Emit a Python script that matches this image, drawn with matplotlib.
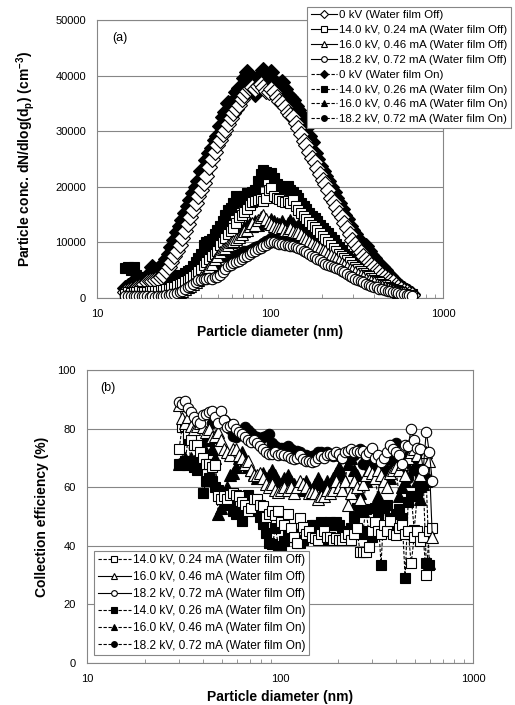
import numpy as np
import matplotlib
matplotlib.use("Agg")
import matplotlib.pyplot as plt
from matplotlib.ticker import LogLocator, NullFormatter, FixedLocator, FixedFormatter

plt.rcParams["font.family"] = ["Liberation Sans", "DejaVu Sans"]
plt.rcParams["mathtext.fontset"] = "custom"
plt.rcParams["mathtext.rm"] = "Liberation Sans"
plt.rcParams["mathtext.bf"] = "Liberation Sans:bold"
plt.rcParams["mathtext.default"] = "bf"

# ---- particle diameters (nm), SMPS channels ----
diam = [14.6, 15.1, 15.7, 16.3, 16.8, 17.5, 18.1, 18.8, 19.5, 20.2,
        20.9, 21.7, 22.5, 23.3, 24.1, 25.0, 25.9, 26.9, 27.9, 28.9,
        30.0, 31.1, 32.2, 33.4, 34.6, 35.9, 37.2, 38.5, 40.0, 41.4,
        42.9, 44.5, 46.1, 47.8, 49.6, 51.4, 53.3, 55.2, 57.3, 59.4,
        61.5, 63.8, 66.1, 68.5, 71.0, 73.7, 76.4, 79.1, 82.0, 85.1,
        88.2, 91.4, 94.7, 98.2, 101.8, 105.5, 109.4, 113.4, 117.6, 121.9,
        126.3, 131.0, 135.8, 140.7, 145.9, 151.2, 156.8, 162.5, 168.5, 174.7,
        181.1, 187.7, 194.6, 201.7, 209.1, 216.7, 224.7, 232.9, 241.4, 250.3,
        259.5, 269.0, 278.8, 289.0, 299.6, 310.6, 322.0, 333.8, 346.0, 358.7,
        371.8, 385.4, 399.5, 414.2, 429.4, 445.1, 461.4, 478.3, 495.8, 514.0,
        532.8, 552.3, 572.5, 593.5, 615.3, 637.8, 661.2]

# ---- (a) number concentration, in 10^3 cm^-3 ----
off_0kv = [1.0, 1.2, 1.5, 1.6, 1.8, 2.0, 2.2, 2.5, 2.8, 3.0,
           3.0, 3.2, 3.5, 3.7, 4.2, 4.8, 5.6, 6.5, 7.5, 8.5,
           9.5, 10.8, 12.0, 13.3, 14.5, 15.8, 17.0, 18.3, 19.5, 20.7,
           22.0, 23.5, 25.0, 26.3, 27.5, 28.5, 29.5, 30.3, 31.3, 32.3,
           33.2, 34.0, 34.8, 35.8, 36.5, 37.2, 37.8, 38.0, 37.6, 38.2,
           38.5, 38.0, 37.3, 37.0, 37.5, 37.0, 36.2, 35.5, 35.0, 34.3,
           33.5, 33.0, 32.5, 31.5, 30.5, 29.5, 28.3, 27.5, 26.3, 25.2,
           24.5, 23.3, 22.3, 21.3, 20.5, 19.5, 18.0, 17.2, 16.3, 15.3,
           14.5, 13.5, 12.5, 11.5, 10.5, 9.7, 9.0, 8.2, 7.6, 7.0,
           6.5, 6.0, 5.5, 5.0, 4.6, 4.2, 3.8, 3.5, 3.1, 2.8,
           2.4, 2.0, 1.7, 1.3, 1.0, 0.8, 0.6]
off_14kv = [0.8, 1.0, 0.9, 1.1, 1.0, 1.2, 1.0, 1.1, 1.0, 1.2,
            1.2, 1.3, 1.2, 1.4, 1.5, 1.6, 1.7, 1.9, 2.0, 2.3,
            2.5, 2.7, 3.0, 3.3, 3.6, 4.0, 4.4, 4.9, 5.3, 6.0,
            6.5, 7.0, 7.5, 8.0, 8.5, 9.5, 10.0, 10.8, 11.5, 12.0,
            12.5, 13.5, 14.5, 15.0, 15.5, 16.0, 16.8, 17.2, 17.5, 17.7,
            17.8, 17.5, 18.0, 19.5, 19.8, 18.3, 18.0, 17.8, 17.5, 17.2,
            17.4, 17.0, 17.6, 16.5, 15.8, 15.3, 14.8, 14.2, 13.7, 13.2,
            12.7, 12.2, 11.7, 11.2, 10.6, 10.0, 9.5, 9.0, 8.5, 8.0,
            7.6, 7.2, 6.8, 6.4, 6.0, 5.6, 5.2, 4.8, 4.5, 4.2,
            3.9, 3.6, 3.3, 3.0, 2.8, 2.5, 2.3, 2.0, 1.8, 1.6,
            1.4, 1.2, 1.0, 0.8, 0.6, 0.5, 0.4]
off_16kv = [0.3, 0.2, 0.3, 0.2, 0.1, 0.2, 0.1, 0.0, 0.1, 0.0,
            0.0, -0.1, 0.0, 0.1, 0.2, 0.3, 0.4, 0.5, 0.7, 0.9,
            1.1, 1.3, 1.6, 1.9, 2.2, 2.5, 2.9, 3.3, 3.7, 4.2,
            4.8, 5.5, 6.2, 7.0, 7.6, 8.2, 8.8, 9.0, 9.5, 10.0,
            10.3, 10.7, 11.0, 11.5, 12.0, 12.3, 13.0, 13.5, 13.2, 14.0,
            14.5, 15.0, 14.2, 13.6, 13.3, 13.0, 12.8, 12.5, 12.8, 12.3,
            12.2, 12.5, 12.0, 11.8, 11.9, 11.5, 11.0, 10.6, 10.2, 9.9,
            9.6, 9.3, 9.0, 8.7, 8.4, 8.0, 7.7, 7.3, 7.0, 6.6,
            6.3, 5.9, 5.6, 5.3, 5.0, 4.7, 4.4, 4.1, 3.8, 3.5,
            3.3, 3.0, 2.8, 2.6, 2.4, 2.2, 2.0, 1.8, 1.6, 1.4,
            1.3, 1.1, 1.0, 0.8, 0.7, 0.5, 0.4]
off_18kv = [0.4, 0.3, 0.4, 0.3, 0.4, 0.3, 0.4, 0.3, 0.3, 0.2,
            0.3, 0.2, 0.3, 0.3, 0.4, 0.5, 0.6, 0.7, 0.8, 0.9,
            1.0, 1.3, 1.6, 1.9, 2.2, 2.6, 2.9, 3.2, 3.3, 3.4,
            3.5, 3.6, 3.5, 3.7, 3.8, 4.2, 4.7, 5.2, 5.7, 6.0,
            6.3, 6.5, 6.7, 7.0, 7.3, 7.6, 7.9, 8.2, 8.5, 8.8,
            9.0, 9.3, 9.6, 9.9, 10.1, 10.0, 9.9, 9.8, 9.8, 9.6,
            9.5, 9.4, 9.3, 9.2, 9.0, 8.8, 8.5, 8.2, 7.9, 7.6,
            7.4, 7.1, 6.8, 6.5, 6.2, 6.0, 5.8, 5.6, 5.4, 5.2,
            4.9, 4.6, 4.3, 4.0, 3.7, 3.4, 3.2, 3.0, 2.8, 2.6,
            2.4, 2.2, 2.0, 1.9, 1.7, 1.6, 1.5, 1.3, 1.2, 1.1,
            1.0, 0.9, 0.8, 0.7, 0.6, 0.5, 0.4]
on_0kv = [1.8, 2.2, 2.6, 3.0, 2.5, 2.8, 3.2, 3.0, 3.5, 4.5,
          5.5, 5.0, 5.3, 5.8, 6.2, 7.0, 8.0, 9.2, 10.5, 11.8,
          12.9, 14.0, 15.3, 16.5, 17.7, 18.8, 20.0, 21.0, 22.9, 22.5,
          24.9, 26.0, 27.0, 28.5, 29.2, 31.0, 32.5, 33.5, 35.0, 34.8,
          35.5, 37.0, 37.8, 38.0, 39.5, 40.6, 39.3, 38.8, 36.7, 39.0,
          40.2, 41.0, 40.0, 39.5, 40.6, 39.0, 37.8, 38.2, 38.9, 37.5,
          36.5, 36.2, 35.6, 34.5, 33.8, 33.0, 31.5, 30.5, 29.2, 28.0,
          26.0, 25.0, 23.7, 22.8, 22.0, 21.0, 20.0, 19.0, 18.0, 17.0,
          16.0, 15.0, 14.2, 13.0, 12.3, 11.5, 10.6, 9.8, 9.6, 9.3,
          8.5, 7.8, 7.2, 6.5, 6.0, 5.5, 5.0, 4.4, 3.9, 3.3,
          2.8, 2.3, 1.9, 1.6, 1.3, 1.0, 0.8]
on_14kv = [5.4, 5.5, 5.0, 5.6, 4.2, 3.8, 3.3, 3.0, 2.7, 2.5,
           2.5, 2.4, 2.6, 2.8, 3.0, 3.2, 3.5, 3.3, 3.8, 4.1,
           4.2, 4.0, 4.5, 4.8, 5.1, 5.8, 6.5, 7.2, 8.0, 9.5,
           10.0, 10.3, 10.6, 11.5, 12.2, 13.0, 13.8, 15.0, 15.8, 16.2,
           17.0, 18.3, 17.5, 17.8, 18.3, 18.8, 18.5, 19.0, 19.5, 21.0,
           22.3, 23.0, 22.6, 22.3, 22.4, 21.5, 20.5, 20.2, 19.8, 20.0,
           20.1, 19.5, 19.0, 18.5, 18.0, 17.1, 16.5, 16.0, 15.3, 14.8,
           14.3, 13.8, 13.2, 12.5, 12.0, 11.7, 11.0, 10.4, 9.8, 9.2,
           8.6, 8.0, 7.5, 7.0, 6.6, 6.2, 5.7, 5.2, 4.8, 4.4,
           4.0, 3.6, 3.3, 3.0, 2.7, 2.5, 2.3, 2.1, 1.9, 1.7,
           1.5, 1.3, 1.2, 1.0, 0.9, 0.8, 0.7]
on_16kv = [1.8, 2.2, 2.5, 2.0, 1.8, 1.6, 1.5, 1.6, 1.5, 1.4,
           1.5, 1.6, 1.4, 1.7, 1.9, 2.0, 2.2, 2.4, 2.6, 2.8,
           3.0, 3.2, 3.5, 3.8, 4.0, 4.3, 4.6, 5.0, 5.5, 6.2,
           7.0, 7.8, 9.0, 10.5, 12.3, 11.5, 11.0, 10.5, 10.3, 10.0,
           10.3, 10.8, 11.3, 12.0, 12.8, 13.2, 13.5, 13.0, 13.8, 13.2,
           14.0, 14.3, 13.8, 13.5, 14.2, 13.8, 13.5, 13.3, 13.8, 13.0,
           13.5, 14.0, 13.4, 12.8, 13.2, 13.0, 12.3, 11.8, 11.3, 10.8,
           10.5, 10.0, 9.7, 9.4, 9.0, 8.8, 8.5, 8.2, 7.9, 7.5,
           7.2, 6.8, 6.5, 6.2, 5.9, 5.5, 5.2, 4.8, 4.5, 4.2,
           3.9, 3.6, 3.3, 3.0, 2.8, 2.6, 2.3, 2.1, 1.9, 1.7,
           1.5, 1.3, 1.1, 1.0, 0.8, 0.7, 0.6]
on_18kv = [1.5, 1.8, 2.0, 2.2, 2.0, 2.1, 2.0, 1.9, 1.8, 1.8,
           1.8, 1.9, 2.0, 2.1, 2.2, 2.3, 2.4, 2.5, 2.7, 2.9,
           3.0, 3.2, 3.3, 3.5, 3.8, 4.0, 4.3, 4.5, 4.8, 5.0,
           5.0, 5.1, 5.0, 5.2, 5.5, 7.5, 7.6, 7.5, 7.4, 7.5,
           7.6, 7.8, 8.0, 8.2, 8.4, 8.5, 8.7, 8.9, 9.1, 9.4,
           9.6, 9.9, 10.2, 10.5, 10.8, 10.6, 10.4, 10.3, 10.2, 10.1,
           10.0, 9.9, 9.8, 9.6, 9.4, 9.2, 8.9, 8.6, 8.3, 8.0,
           7.8, 7.5, 7.3, 7.0, 6.8, 6.6, 6.4, 6.2, 6.0, 5.8,
           5.6, 5.3, 5.1, 4.8, 4.6, 4.4, 4.1, 3.9, 3.7, 3.4,
           3.2, 3.0, 2.8, 2.6, 2.4, 2.2, 2.0, 1.8, 1.7, 1.5,
           1.4, 1.2, 1.1, 1.0, 0.8, 0.7, 0.6]

# ---- (b) collection efficiency (%), channels 30.0 - 615.3 nm ----
nan = np.nan
eff_off_14kv = [73, 80.5, 81, 78, 76, 74.5, 74.5, 72, 70, 68,
                68, 67, 67.5, 57, 56, 57, 56, 57.5, 58, 57.5,
                57, 55, 54, 52, 53, 56, 56, 54, 53.5, 50,
                51, 52, 50.5, 52, 48, 47, 51, 46, 43, 41,
                49.5, 46.5, 44, 45, 43, 42.5, 42, 44, 45, 43,
                43, 42, 42.5, 42, 42, 43, 44, 42, 44, 46,
                38, 38, 37.8, 39.5, 45, 48, 45, 44, 47, 45,
                48.5, 44, 43.6, 46, 47, 44, 45, 34, 43, 45,
                41.6, 43, 30, 45, 46]
eff_off_16kv = [88, 83.5, 82, 84, 81, 80, 81, 82, 80.5, 79,
                80, 77, 77.5, 79, 76, 73, 72, 71, 73, 73,
                71, 70, 68, 69, 66, 64, 64, 65, 63, 61,
                60, 61, 59, 58.5, 59, 60, 59, 60, 58, 60,
                62, 61, 60, 58, 58.5, 58, 56, 57, 57, 59,
                58, 59, 62, 60, 59, 62, 54, 58, 62, 60,
                56, 61, 64, 66, 65, 63, 66, 64, 62, 60,
                65, 66, 67, 66, 68, 64, 70, 72, 73, 71,
                64, 70, 72, 69, 43]
eff_off_18kv = [89, 88.5, 89.5, 87, 85.5, 84, 82.5, 82, 84.5, 85,
                85.5, 86, 84, 82, 86, 83, 80.5, 81, 81.5, 80,
                79, 78, 77, 76, 75.5, 76, 75, 74, 73, 72,
                71.5, 71.5, 72, 71, 71.5, 71, 70.5, 70, 69.5, 70,
                71, 69.5, 69, 69, 68.5, 69, 70, 70.5, 70, 71,
                71.5, 71, 72, 71.5, 70, 72, 72.5, 73, 72, 72.5,
                72, 72.5, 71, 72, 73.5, 70, 71, 68.5, 70, 72,
                74.5, 73, 72, 71, 68, 74.5, 74, 80, 76, 73.5,
                73, 66, 79, 72, 62]
eff_on_14kv = [68, 68, 69, 76, 69, 67, 66, 68, 58, 62,
               63, 62, 60, 59, 57, 58, 56, 54, 52, 51,
               52, 48.6, 53, 57.5, 54, 52, 53, 50, 47.5, 44.5,
               41, 40.5, 46, 40, 39, 41.5, 44, 43, 44, 42,
               41, 42, 43, 46, 47, 47, 46, 48, 47, 42,
               48, 47, 48, 47, 44, 45, 45, 46, 50, 53,
               44, 45, 52.6, 44, 43, 53, 51, 33.5, 53, 54,
               49.5, 45, 51, 52.5, 49.5, 29, 55, 57, 45.5, 57,
               60, 62, 34, 33.5, nan]
eff_on_16kv = [68, 69, 70, 68, 70, 69, 70, 72, 74, 77,
               76, 73, 70, 51, 53, 55, 60, 64, 65, 67,
               70, 72, 69, 67, 66, 64.5, 63, 64, 65, 63,
               64, 66, 64, 62, 61, 63, 64, 62, 61, 60,
               59, 61, 62, 60, 58, 61, 63, 61, 60, 62,
               61, 63, 65, 67, 64, 62, 68, 70, 66, 64,
               58, 52, 62, 69, 68, 63, 57, 68, 70, 66,
               63, 68, 66, 57, 60, 62, 72, 70, 67, 62,
               56, 61, 62, 34, nan]
eff_on_18kv = [nan, nan, nan, nan, nan, nan, nan, nan, nan, nan,
               nan, 82, 83, 83.5, 83.5, 83, 82, 80, 77.5, 77,
               78.5, 79.5, 80.5, 79.5, 78.5, 77.5, 77, 76.5, 77, 77.5,
               78, 75, 74, 73.5, 73.5, 73.5, 74, 73, 72.5, 72.5,
               72, 71, 71, 70, 70.5, 71, 72, 72, 71.5, 72,
               71.5, 70.5, 71, 70.5, 70, 70.5, 71, 70.5, 71, 72,
               73, 68, 69.5, 67, 68, 66, 69, 70, 64.5, 65,
               70, 69, 75, 67, 66, 68, 63, 70, 66, 69,
               64, 62, 63, nan, nan]

diam_b = diam[20:105]

labels_a = ["0 kV (Water film Off)", "14.0 kV, 0.24 mA (Water film Off)",
            "16.0 kV, 0.46 mA (Water film Off)", "18.2 kV, 0.72 mA (Water film Off)",
            "0 kV (Water film On)", "14.0 kV, 0.26 mA (Water film On)",
            "16.0 kV, 0.46 mA (Water film On)", "18.2 kV, 0.72 mA (Water film On)"]
labels_b = ["14.0 kV, 0.24 mA (Water film Off)", "16.0 kV, 0.46 mA (Water film Off)",
            "18.2 kV, 0.72 mA (Water film Off)", "14.0 kV, 0.26 mA (Water film On)",
            "16.0 kV, 0.46 mA (Water film On)", "18.2 kV, 0.72 mA (Water film On)"]

GRAY = "#868686"
W, H = 515, 705
fig = plt.figure(figsize=(W / 100, H / 100), dpi=100)
ax_a = fig.add_axes([97 / W, 1 - 298 / H, 346 / W, 278 / H])
ax_b = fig.add_axes([87 / W, 1 - 663 / H, 386 / W, 293 / H])


def style(marker, filled, dashed, ms):
    return dict(marker=marker, markersize=ms, markeredgewidth=0.8,
                markeredgecolor="black",
                markerfacecolor="black" if filled else "white",
                color="black", linewidth=0.8,
                linestyle=(0, (3, 1.5)) if dashed else "-")


# panel (a)
a_series = [(off_0kv, "D", False, False, 8.0),
            (off_14kv, "s", False, False, 7.5),
            (off_16kv, "^", False, False, 8.2),
            (off_18kv, "o", False, False, 7.5),
            (on_0kv, "D", True, True, 8.0),
            (on_14kv, "s", True, True, 7.5),
            (on_16kv, "^", True, True, 8.2),
            (on_18kv, "o", True, True, 7.5)]
for (vals, mk, filled, dashed, ms), lab in zip(a_series, labels_a):
    ax_a.plot(diam, np.array(vals) * 1000, label=lab,
              zorder=3 if filled else 4, **style(mk, filled, dashed, ms))

# panel (b)
b_series = [(eff_off_14kv, "s", False, True, 7.5),
            (eff_off_16kv, "^", False, False, 8.2),
            (eff_off_18kv, "o", False, False, 7.5),
            (eff_on_14kv, "s", True, True, 7.5),
            (eff_on_16kv, "^", True, True, 8.2),
            (eff_on_18kv, "o", True, True, 7.5)]
for (vals, mk, filled, dashed, ms), lab in zip(b_series, labels_b):
    ax_b.plot(diam_b, vals, label=lab,
              zorder=3 if filled else 4, **style(mk, filled, dashed, ms))

for ax in (ax_a, ax_b):
    ax.set_xscale("log")
    ax.set_xlim(10, 1000)
    ax.xaxis.set_major_locator(FixedLocator([10, 100, 1000]))
    ax.xaxis.set_major_formatter(FixedFormatter(["10", "100", "1000"]))
    ax.xaxis.set_minor_locator(LogLocator(base=10, subs=np.arange(2, 10)))
    ax.xaxis.set_minor_formatter(NullFormatter())
    ax.tick_params(axis="x", which="major", length=0, pad=8, labelsize=8)
    ax.tick_params(axis="x", which="minor", direction="in", length=3,
                   width=0.6, color=GRAY)
    ax.tick_params(axis="y", length=0, pad=8, labelsize=8)
    ax.grid(axis="y", color=GRAY, linewidth=0.8)
    ax.set_axisbelow(True)
    for sp in ax.spines.values():
        sp.set_color(GRAY)
        sp.set_linewidth(0.8)
    ax.set_xlabel("Particle diameter (nm)", fontsize=10, fontweight="bold")

ax_a.set_ylim(0, 50000)
ax_a.set_yticks([0, 10000, 20000, 30000, 40000, 50000])
ax_a.set_ylabel(r"Particle conc. dN/dlog(d$_p$) (cm$^{-3}$)",
                fontsize=10, fontweight="bold", labelpad=13)
ax_a.text(0.045, 0.935, "(a)", transform=ax_a.transAxes, fontsize=9,
          va="center", ha="left")

ax_b.set_ylim(0, 100)
ax_b.set_yticks([0, 20, 40, 60, 80, 100])
ax_b.set_ylabel("Collection efficiency (%)", fontsize=10,
                fontweight="bold", labelpad=6)
ax_b.text(0.035, 0.94, "(b)", transform=ax_b.transAxes, fontsize=9,
          va="center", ha="left")

leg_kw = dict(frameon=True, fancybox=False, framealpha=1,
              edgecolor=GRAY, borderaxespad=0,
              handletextpad=0.2, markerscale=0.55, borderpad=0.3)
leg_a = fig.legend(handles=ax_a.get_lines(), labels=labels_a,
                   loc="upper right", bbox_to_anchor=(511 / W, 1 - 7 / H),
                   fontsize=8.25, labelspacing=0.42, handlelength=2.3,
                   **leg_kw)
leg_a.get_frame().set_linewidth(0.8)
leg_a.set_zorder(10)
leg_b = ax_b.legend(loc="lower left", bbox_to_anchor=(0.018, 0.027),
                    fontsize=8.6, labelspacing=0.42, handlelength=2.8,
                    **leg_kw)
leg_b.get_frame().set_linewidth(0.8)
leg_b.set_zorder(10)

fig.savefig("out.png", dpi=100)
